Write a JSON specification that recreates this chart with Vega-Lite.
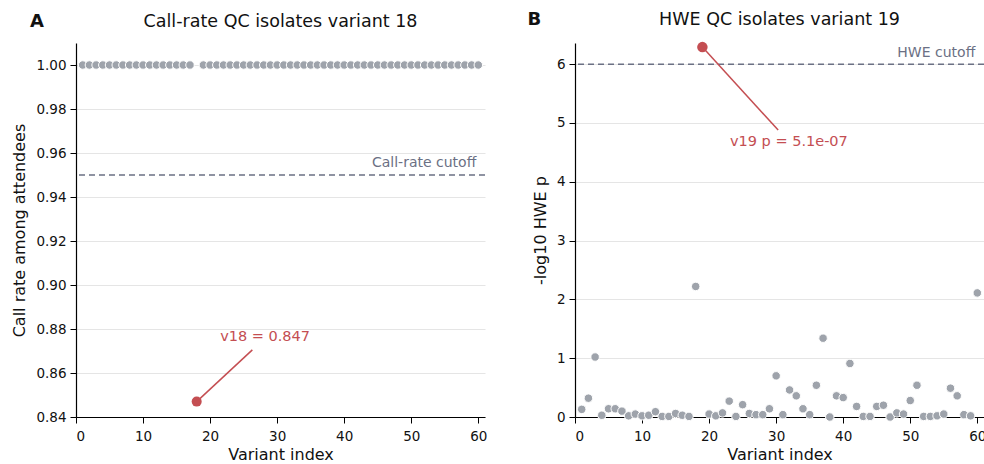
{
  "$schema": "https://vega.github.io/schema/vega-lite/v6.json",
  "padding": {"left": 11, "top": 11, "right": 0, "bottom": 0},
  "config": {
    "font": "DejaVu Sans",
    "view": {"stroke": null},
    "axis": {"domainColor": "#000", "tickColor": "#000", "labelColor": "#111", "titleColor": "#111", "labelFontSize": 13.5, "titleFontSize": 16, "titleFontWeight": "normal", "gridColor": "#e5e5e5", "tickSize": 6, "labelPadding": 4, "domainWidth": 1.2},
    "axisX": {"labelPadding": 6, "titlePadding": 4},
    "axisY": {"titlePadding": 8},
    "title": {"fontSize": 17.5, "fontWeight": "normal", "color": "#111", "offset": 13}
  },
  "datasets": {
    "one": [{}],
    "callrate": [
      {"variant": 1, "rate": 1.0}, {"variant": 2, "rate": 1.0}, {"variant": 3, "rate": 1.0}, {"variant": 4, "rate": 1.0}, {"variant": 5, "rate": 1.0},
      {"variant": 6, "rate": 1.0}, {"variant": 7, "rate": 1.0}, {"variant": 8, "rate": 1.0}, {"variant": 9, "rate": 1.0}, {"variant": 10, "rate": 1.0},
      {"variant": 11, "rate": 1.0}, {"variant": 12, "rate": 1.0}, {"variant": 13, "rate": 1.0}, {"variant": 14, "rate": 1.0}, {"variant": 15, "rate": 1.0},
      {"variant": 16, "rate": 1.0}, {"variant": 17, "rate": 1.0}, {"variant": 18, "rate": 0.847}, {"variant": 19, "rate": 1.0}, {"variant": 20, "rate": 1.0},
      {"variant": 21, "rate": 1.0}, {"variant": 22, "rate": 1.0}, {"variant": 23, "rate": 1.0}, {"variant": 24, "rate": 1.0}, {"variant": 25, "rate": 1.0},
      {"variant": 26, "rate": 1.0}, {"variant": 27, "rate": 1.0}, {"variant": 28, "rate": 1.0}, {"variant": 29, "rate": 1.0}, {"variant": 30, "rate": 1.0},
      {"variant": 31, "rate": 1.0}, {"variant": 32, "rate": 1.0}, {"variant": 33, "rate": 1.0}, {"variant": 34, "rate": 1.0}, {"variant": 35, "rate": 1.0},
      {"variant": 36, "rate": 1.0}, {"variant": 37, "rate": 1.0}, {"variant": 38, "rate": 1.0}, {"variant": 39, "rate": 1.0}, {"variant": 40, "rate": 1.0},
      {"variant": 41, "rate": 1.0}, {"variant": 42, "rate": 1.0}, {"variant": 43, "rate": 1.0}, {"variant": 44, "rate": 1.0}, {"variant": 45, "rate": 1.0},
      {"variant": 46, "rate": 1.0}, {"variant": 47, "rate": 1.0}, {"variant": 48, "rate": 1.0}, {"variant": 49, "rate": 1.0}, {"variant": 50, "rate": 1.0},
      {"variant": 51, "rate": 1.0}, {"variant": 52, "rate": 1.0}, {"variant": 53, "rate": 1.0}, {"variant": 54, "rate": 1.0}, {"variant": 55, "rate": 1.0},
      {"variant": 56, "rate": 1.0}, {"variant": 57, "rate": 1.0}, {"variant": 58, "rate": 1.0}, {"variant": 59, "rate": 1.0}, {"variant": 60, "rate": 1.0}
    ],
    "hwe": [
      {"variant": 1, "logp": 0.13}, {"variant": 2, "logp": 0.32}, {"variant": 3, "logp": 1.02}, {"variant": 4, "logp": 0.03}, {"variant": 5, "logp": 0.14},
      {"variant": 6, "logp": 0.14}, {"variant": 7, "logp": 0.1}, {"variant": 8, "logp": 0.02}, {"variant": 9, "logp": 0.05}, {"variant": 10, "logp": 0.02},
      {"variant": 11, "logp": 0.03}, {"variant": 12, "logp": 0.09}, {"variant": 13, "logp": 0.01}, {"variant": 14, "logp": 0.01}, {"variant": 15, "logp": 0.06},
      {"variant": 16, "logp": 0.03}, {"variant": 17, "logp": 0.01}, {"variant": 18, "logp": 2.22}, {"variant": 19, "logp": 6.29}, {"variant": 20, "logp": 0.05},
      {"variant": 21, "logp": 0.02}, {"variant": 22, "logp": 0.07}, {"variant": 23, "logp": 0.27}, {"variant": 24, "logp": 0.01}, {"variant": 25, "logp": 0.21},
      {"variant": 26, "logp": 0.06}, {"variant": 27, "logp": 0.04}, {"variant": 28, "logp": 0.04}, {"variant": 29, "logp": 0.14}, {"variant": 30, "logp": 0.7},
      {"variant": 31, "logp": 0.04}, {"variant": 32, "logp": 0.46}, {"variant": 33, "logp": 0.36}, {"variant": 34, "logp": 0.14}, {"variant": 35, "logp": 0.04},
      {"variant": 36, "logp": 0.54}, {"variant": 37, "logp": 1.34}, {"variant": 38, "logp": 0.0}, {"variant": 39, "logp": 0.36}, {"variant": 40, "logp": 0.33},
      {"variant": 41, "logp": 0.91}, {"variant": 42, "logp": 0.18}, {"variant": 43, "logp": 0.01}, {"variant": 44, "logp": 0.01}, {"variant": 45, "logp": 0.18},
      {"variant": 46, "logp": 0.2}, {"variant": 47, "logp": 0.0}, {"variant": 48, "logp": 0.07}, {"variant": 49, "logp": 0.05}, {"variant": 50, "logp": 0.28},
      {"variant": 51, "logp": 0.54}, {"variant": 52, "logp": 0.01}, {"variant": 53, "logp": 0.01}, {"variant": 54, "logp": 0.02}, {"variant": 55, "logp": 0.05},
      {"variant": 56, "logp": 0.49}, {"variant": 57, "logp": 0.36}, {"variant": 58, "logp": 0.04}, {"variant": 59, "logp": 0.02}, {"variant": 60, "logp": 2.11}
    ]
  },
  "spacing": 40,
  "hconcat": [
    {
      "title": {"text": "A", "anchor": "start", "fontWeight": "bold", "fontSize": 18, "dx": 18, "dy": 18, "offset": 0},
      "vconcat": [
        {
          "width": 409,
          "height": 374,
          "title": {"text": "Call-rate QC isolates variant 18"},
          "layer": [
            {
              "data": {"name": "one"},
              "mark": {"type": "rule", "color": "#6b7084", "strokeDash": [6, 4], "strokeWidth": 1.5},
              "encoding": {"y": {"datum": 0.95, "type": "quantitative"}}
            },
            {
              "data": {"name": "one"},
              "mark": {"type": "text", "align": "right", "baseline": "bottom", "fontSize": 14, "color": "#6b7084"},
              "encoding": {"x": {"datum": 59.7, "type": "quantitative"}, "y": {"datum": 0.9522, "type": "quantitative"}, "text": {"value": "Call-rate cutoff"}}
            },
            {
              "data": {"name": "callrate"},
              "transform": [{"filter": "datum.variant != 18"}],
              "mark": {"type": "circle", "color": "#9ea3ab", "opacity": 1, "size": 72, "stroke": "#ffffff", "strokeWidth": 1},
              "encoding": {
                "x": {"field": "variant", "type": "quantitative", "title": "Variant index", "scale": {"domain": [0, 61], "nice": false}, "axis": {"values": [0, 10, 20, 30, 40, 50, 60], "grid": false}},
                "y": {"field": "rate", "type": "quantitative", "title": "Call rate among attendees", "scale": {"domain": [0.84, 1.01], "nice": false, "zero": false}, "axis": {"values": [0.84, 0.86, 0.88, 0.9, 0.92, 0.94, 0.96, 0.98, 1.0], "format": ".2f", "grid": true}}
              }
            },
            {
              "data": {"name": "one"},
              "mark": {"type": "rule", "color": "#c44e52", "strokeWidth": 1.5},
              "encoding": {"x": {"datum": 18, "type": "quantitative"}, "y": {"datum": 0.847, "type": "quantitative"}, "x2": {"datum": 26.3}, "y2": {"datum": 0.8705}}
            },
            {
              "data": {"name": "callrate"},
              "transform": [{"filter": "datum.variant == 18"}],
              "mark": {"type": "circle", "color": "#c44e52", "opacity": 1, "size": 100},
              "encoding": {"x": {"field": "variant", "type": "quantitative"}, "y": {"field": "rate", "type": "quantitative"}}
            },
            {
              "data": {"name": "one"},
              "mark": {"type": "text", "align": "center", "baseline": "middle", "fontSize": 14.5, "color": "#c44e52"},
              "encoding": {"x": {"datum": 28.2, "type": "quantitative"}, "y": {"datum": 0.8764, "type": "quantitative"}, "text": {"value": "v18 = 0.847"}}
            }
          ]
        }
      ]
    },
    {
      "title": {"text": "B", "anchor": "start", "fontWeight": "bold", "fontSize": 18, "dx": -5, "dy": 18, "offset": 0},
      "vconcat": [
        {
          "width": 409,
          "height": 374,
          "title": {"text": "HWE QC isolates variant 19"},
          "layer": [
            {
              "data": {"name": "one"},
              "mark": {"type": "rule", "color": "#6b7084", "strokeDash": [6, 4], "strokeWidth": 1.5},
              "encoding": {"y": {"datum": 6, "type": "quantitative"}}
            },
            {
              "data": {"name": "one"},
              "mark": {"type": "text", "align": "right", "baseline": "bottom", "fontSize": 14, "color": "#6b7084"},
              "encoding": {"x": {"datum": 59.7, "type": "quantitative"}, "y": {"datum": 6.07, "type": "quantitative"}, "text": {"value": "HWE cutoff"}}
            },
            {
              "data": {"name": "one"},
              "mark": {"type": "rule", "color": "#c44e52", "strokeWidth": 1.5},
              "encoding": {"x": {"datum": 19, "type": "quantitative"}, "y": {"datum": 6.29, "type": "quantitative"}, "x2": {"datum": 30.3}, "y2": {"datum": 4.88}}
            },
            {
              "data": {"name": "hwe"},
              "transform": [{"filter": "datum.variant != 19"}],
              "mark": {"type": "circle", "color": "#9ea3ab", "opacity": 1, "size": 72, "stroke": "#ffffff", "strokeWidth": 1},
              "encoding": {
                "x": {"field": "variant", "type": "quantitative", "title": "Variant index", "scale": {"domain": [0, 61], "nice": false}, "axis": {"values": [0, 10, 20, 30, 40, 50, 60], "grid": false}},
                "y": {"field": "logp", "type": "quantitative", "title": "-log10 HWE p", "scale": {"domain": [0, 6.36], "nice": false}, "axis": {"values": [0, 1, 2, 3, 4, 5, 6], "format": "d", "grid": true}}
              }
            },
            {
              "data": {"name": "hwe"},
              "transform": [{"filter": "datum.variant == 19"}],
              "mark": {"type": "circle", "color": "#c44e52", "opacity": 1, "size": 110},
              "encoding": {"x": {"field": "variant", "type": "quantitative"}, "y": {"field": "logp", "type": "quantitative"}}
            },
            {
              "data": {"name": "one"},
              "mark": {"type": "text", "align": "center", "baseline": "middle", "fontSize": 14.5, "color": "#c44e52"},
              "encoding": {"x": {"datum": 31.9, "type": "quantitative"}, "y": {"datum": 4.68, "type": "quantitative"}, "text": {"value": "v19 p = 5.1e-07"}}
            }
          ]
        }
      ]
    }
  ]
}
